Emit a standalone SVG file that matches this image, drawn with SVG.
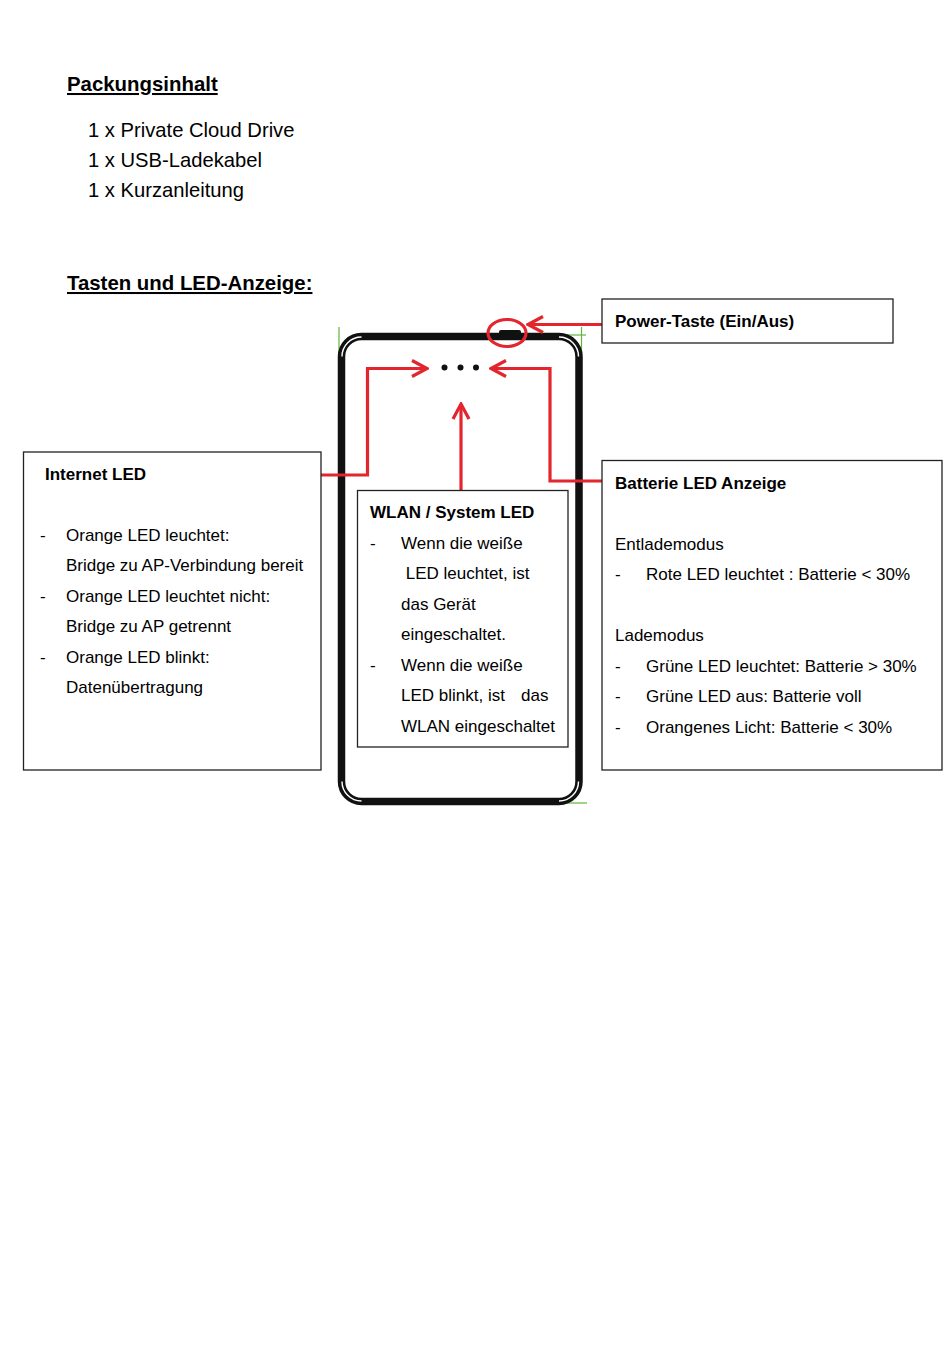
<svg xmlns="http://www.w3.org/2000/svg" width="950" height="1370" viewBox="0 0 950 1370">
<style>
text{font-family:"Liberation Sans",Arial,sans-serif;fill:#000}
.h{font-size:20.4px;font-weight:bold;text-decoration:underline}
.l{font-size:20.2px}
.t{font-size:17px}
.b{font-size:17px;font-weight:bold}
.box{fill:#fff;stroke:#222;stroke-width:1.3}
.red{fill:none;stroke:#e3252d;stroke-width:3.2}
.grn{stroke:#5cb83c;stroke-width:1.2;fill:none}
</style>
<defs>
<marker id="chev" viewBox="-18 -10 20 20" markerWidth="20" markerHeight="20" refX="0" refY="0" orient="auto" markerUnits="userSpaceOnUse">
<path d="M-15,-8 L0,0 L-15,8" fill="none" stroke="#e3252d" stroke-width="3.2"/>
</marker>
</defs>
<rect width="950" height="1370" fill="#fff"/>

<g id="header">
<text class="h" x="67" y="91">Packungsinhalt</text>
<text class="l" x="88" y="137">1 x Private Cloud Drive</text>
<text class="l" x="88" y="167">1 x USB-Ladekabel</text>
<text class="l" x="88" y="197">1 x Kurzanleitung</text>
<text class="h" x="67" y="290">Tasten und LED-Anzeige:</text>
</g>

<g id="device">
<line class="grn" x1="339" y1="327" x2="339" y2="358"/>
<line class="grn" x1="560" y1="335" x2="586" y2="335"/>
<line class="grn" x1="581.5" y1="327" x2="581.5" y2="362"/>
<line class="grn" x1="560" y1="803" x2="587" y2="803"/>
<rect x="341.5" y="336.5" width="237.5" height="465" rx="20" ry="20" fill="none" stroke="#111" stroke-width="7.5"/>
<path d="M342,356.5 A19.5,19.5 0 0 1 361.5,337 M559,337 A19.5,19.5 0 0 1 578.5,356.5 M578.5,781.5 A19.5,19.5 0 0 1 559,801 M361.5,801 A19.5,19.5 0 0 1 342,781.5" fill="none" stroke="#fff" stroke-width="1.4"/>
<rect x="499" y="330" width="22" height="6" rx="2" fill="#111"/>
<circle cx="444.5" cy="367.5" r="3" fill="#111"/>
<circle cx="460.5" cy="367.5" r="3" fill="#111"/>
<circle cx="476" cy="367.5" r="3" fill="#111"/>
<ellipse cx="507" cy="333" rx="19" ry="13.5" class="red"/>
</g>

<g id="connectors">
<path class="red" d="M602,324.5 L528,324.5" marker-end="url(#chev)"/>
<path class="red" d="M321,475 L367.5,475 L367.5,368.5 L427,368.5" marker-end="url(#chev)"/>
<path class="red" d="M602,481 L550,481 L550,368.5 L491,368.5" marker-end="url(#chev)"/>
<path class="red" d="M461,490 L461,404" marker-end="url(#chev)"/>
</g>

<g id="power-box">
<rect class="box" x="602" y="299" width="291" height="44"/>
<text class="b" x="615" y="327">Power-Taste (Ein/Aus)</text>
</g>

<g id="internet-led">
<rect class="box" x="23.5" y="452" width="297.5" height="318"/>
<text class="b" x="45" y="480">Internet LED</text>
<text class="t" x="40" y="540.5">-</text>
<text class="t" x="66" y="540.5">Orange LED leuchtet:</text>
<text class="t" x="66" y="571">Bridge zu AP-Verbindung bereit</text>
<text class="t" x="40" y="601.5">-</text>
<text class="t" x="66" y="601.5">Orange LED leuchtet nicht:</text>
<text class="t" x="66" y="632">Bridge zu AP getrennt</text>
<text class="t" x="40" y="662.5">-</text>
<text class="t" x="66" y="662.5">Orange LED blinkt:</text>
<text class="t" x="66" y="693">Datenübertragung</text>
</g>

<g id="wlan-led">
<rect class="box" x="357.5" y="490.5" width="210.5" height="256.5"/>
<text class="b" x="370" y="518">WLAN / System LED</text>
<text class="t" x="370" y="548.5">-</text>
<text class="t" x="401" y="548.5">Wenn die weiße</text>
<text class="t" x="401" y="579" xml:space="preserve"> LED leuchtet, ist</text>
<text class="t" x="401" y="609.5">das Gerät</text>
<text class="t" x="401" y="640">eingeschaltet.</text>
<text class="t" x="370" y="670.5">-</text>
<text class="t" x="401" y="670.5">Wenn die weiße</text>
<text class="t" x="401" y="701">LED blinkt, ist <tspan x="521">das</tspan></text>
<text class="t" x="401" y="731.5">WLAN eingeschaltet</text>
</g>

<g id="batterie-led">
<rect class="box" x="602" y="460.5" width="340" height="309.5"/>
<text class="b" x="615" y="489">Batterie LED Anzeige</text>
<text class="t" x="615" y="549.5">Entlademodus</text>
<text class="t" x="615" y="580">-</text>
<text class="t" x="646" y="580">Rote LED leuchtet : Batterie &lt; 30%</text>
<text class="t" x="615" y="641">Lademodus</text>
<text class="t" x="615" y="671.5">-</text>
<text class="t" x="646" y="671.5">Grüne LED leuchtet: Batterie &gt; 30%</text>
<text class="t" x="615" y="702">-</text>
<text class="t" x="646" y="702">Grüne LED aus: Batterie voll</text>
<text class="t" x="615" y="732.5">-</text>
<text class="t" x="646" y="732.5">Orangenes Licht: Batterie &lt; 30%</text>
</g>
</svg>
